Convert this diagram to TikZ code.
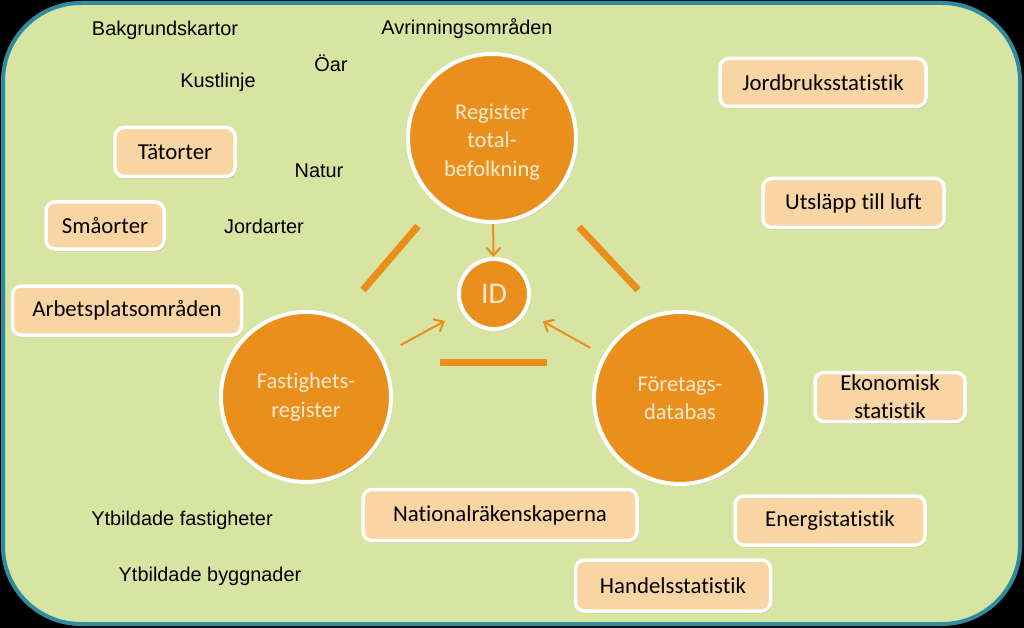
\documentclass[tikz,border=0pt]{standalone}
\usepackage{fontspec}
\setmainfont{Carlito}[Ligatures=NoCommon]
\newfontfamily\arialf{Liberation Sans}
\usetikzlibrary{shadows,arrows.meta}
\definecolor{bgg}{HTML}{D7E4A2}
\definecolor{frameteal}{HTML}{2E8C9E}
\definecolor{orng}{HTML}{EA8F1C}
\definecolor{peach}{HTML}{F9D5A3}
\definecolor{cream}{HTML}{FCEBD2}
\tikzset{
  stbox/.style={draw=white, line width=3.5pt, fill=peach, rounded corners=9pt,
    drop shadow={opacity=0.35, shadow xshift=1.5pt, shadow yshift=-2pt},
    font=\fontsize{22.8}{28}\selectfont, text=black, inner sep=0pt, align=center},
  regc/.style={circle, draw=white, line width=4pt, fill=orng,
    drop shadow={opacity=0.35, shadow xshift=1.5pt, shadow yshift=-2pt},
    text=cream, font=\fontsize{22.5}{28.5}\selectfont, align=center, inner sep=0pt},
  ctext/.style={text=cream, font=\fontsize{22.5}{28.5}\selectfont, align=center, inner sep=0pt},
  plain/.style={font=\arialf\fontsize{19.9}{23}\selectfont, text=black, inner sep=0pt},
  arr/.style={draw=orng, line width=2pt, -{Straight Barb[length=8pt,width=14pt]}},
  bar/.style={draw=orng, line width=7pt}
}
\begin{document}
\begin{tikzpicture}[x=1pt,y=-1pt]
\useasboundingbox (0,0) rectangle (1024,628);
\fill[black] (0,0) rectangle (1024,628);
\draw[draw=frameteal, fill=bgg, line width=4pt, rounded corners=78pt] (3,3) rectangle (1020,624);

% plain texts
\node[plain] (bak) at (165,30) {Bakgrundskartor};
\node[plain] (avr) at (467,29) {Avrinningsområden};
\node[plain] (oar) at (331,63) {Öar};
\node[plain] (kust) at (218,82) {Kustlinje};
\node[plain] (natur) at (319,171) {Natur};
\node[plain] (jord) at (264,226) {Jordarter};
\node[plain] (ytf) at (182,520) {Ytbildade fastigheter};
\node[plain] (ytb) at (210,576) {Ytbildade byggnader};

% boxes
\node[stbox, minimum width=120pt, minimum height=49pt] (tat) at (175,152) {Tätorter};
\node[stbox, minimum width=118pt, minimum height=47pt] (sma) at (105,225.5) {Småorter};
\node[stbox, minimum width=229pt, minimum height=49pt] (arb) at (127,310.5) {Arbetsplatsområden};
\node[stbox, minimum width=206pt, minimum height=48pt] (jbs) at (823,82.5) {Jordbruksstatistik};
\node[stbox, minimum width=181pt, minimum height=49pt] (uts) at (853.5,203) {Utsläpp till luft};
\node[stbox, minimum width=150pt, minimum height=49pt] (eko) at (890,397) {Ekonomisk\\statistik};
\node[stbox, minimum width=274pt, minimum height=51pt] (nat) at (500,515) {Nationalräkenskaperna};
\node[stbox, minimum width=190pt, minimum height=49pt] (ene) at (830,520.5) {Energistatistik};
\node[stbox, minimum width=195pt, minimum height=51pt] (han) at (673,585.5) {Handelsstatistik};

% bars
\coordinate (bl1) at (418,226);
\coordinate (bl2) at (363,290);
\coordinate (br1) at (579,227);
\coordinate (br2) at (638,290);
\coordinate (bb1) at (440,362);
\coordinate (bb2) at (547,362);
\draw[bar] (bl1) -- (bl2);
\draw[bar] (br1) -- (br2);
\draw[bar] (bb1) -- (bb2);

% circles
\node[regc, minimum size=168pt] (reg) at (492,138) {};
\node[ctext] (regt) at (492,142) {Register\\total-\\befolkning};
\node[regc, minimum size=170pt] (fast) at (306,397) {Fastighets-\\register};
\node[regc, minimum size=172pt] (fore) at (680,398) {Företags-\\databas};
\node[regc, minimum size=70pt, font=\fontsize{30}{32}\selectfont] (id) at (494,294) {ID};

% arrows
\draw[arr] (reg) -- (id);
\draw[arr, shorten <=21pt, shorten >=19pt] (fast) -- (id);
\draw[arr, shorten <=15pt, shorten >=19pt] (fore) -- (id);
\end{tikzpicture}
\end{document}
